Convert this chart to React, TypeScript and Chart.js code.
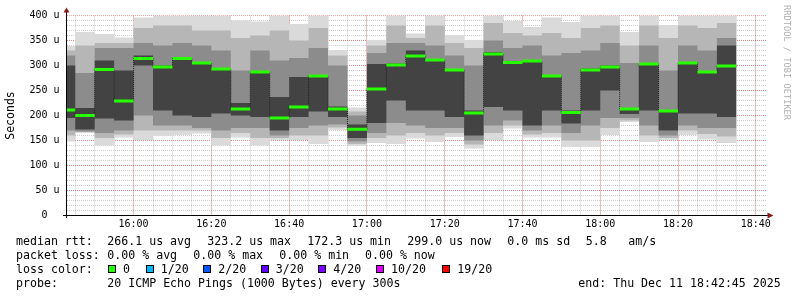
import React, { useEffect, useRef } from "react";
import { Chart, registerables } from "chart.js";

Chart.register(...registerables);

// ---- data ----
const colBounds = [
  "15:42:45", "15:45", "15:50", "15:55",
  "16:00", "16:05", "16:10", "16:15", "16:20", "16:25", "16:30", "16:35", "16:40", "16:45", "16:50", "16:55",
  "17:00", "17:05", "17:10", "17:15", "17:20", "17:25", "17:30", "17:35", "17:40", "17:45", "17:50", "17:55",
  "18:00", "18:05", "18:10", "18:15", "18:20", "18:25", "18:30", "18:35",
];
const rangeStart = "15:42:45";
const rangeEnd = "18:42:45";

const medianRtt = [211, 200, 292, 229, 314, 297, 314, 305, 293, 213, 287, 195, 217, 279, 213, 172.3, 253, 301, 319, 311, 291, 205, 323.2, 306, 309, 279, 206, 291, 297, 213, 303, 209, 305, 287, 299];
const smokeMin = [148, 165, 140, 156, 151, 159, 161, 164, 140, 156, 140, 151, 151, 143, 171, 139, 145, 143, 154, 147, 157, 134, 151, 174, 156, 156, 137, 137, 161, 187, 147, 151, 161, 152, 145];
const smokeMax = [339, 367, 363, 356, 396, 410, 410, 400, 402, 390, 388, 405, 383, 405, 331, 216, 351, 405, 364, 405, 361, 351, 410, 389, 377, 396, 387, 405, 405, 367, 405, 381, 405, 405, 405];
const smokeOuterLo = [160, 167, 155, 162, 170, 170, 170, 170, 155, 165, 155, 155, 160, 160, 176, 143, 155, 160, 165, 160, 165, 142, 165, 180, 162, 165, 150, 150, 175, 190, 160, 155, 170, 163, 158];
const smokeOuterHi = [330, 340, 345, 345, 375, 380, 380, 370, 370, 355, 360, 370, 350, 375, 320, 208, 340, 380, 355, 380, 345, 335, 385, 365, 360, 365, 355, 375, 380, 340, 380, 355, 380, 375, 385];
const smokeMidLo = [170, 168, 165, 170, 200, 180, 180, 175, 170, 175, 175, 160, 175, 180, 182, 148, 165, 185, 180, 175, 175, 150, 180, 190, 170, 180, 165, 180, 195, 195, 180, 160, 180, 175, 175];
const smokeMidHi = [320, 285, 335, 335, 345, 340, 345, 340, 330, 290, 330, 310, 315, 335, 300, 200, 325, 345, 345, 340, 320, 300, 350, 335, 340, 320, 325, 330, 345, 305, 340, 290, 340, 330, 355];
const smokeCoreLo = [195, 172, 194, 190, 300, 210, 200, 197, 204, 200, 197, 170, 197, 208, 197, 155, 185, 230, 210, 210, 197, 160, 217, 210, 180, 210, 184, 210, 250, 203, 210, 170, 204, 204, 197];
const smokeCoreHi = [300, 215, 310, 290, 320, 300, 317, 304, 294, 225, 287, 237, 277, 280, 218, 182, 303, 304, 330, 312, 291, 210, 327, 307, 310, 280, 210, 294, 300, 214, 305, 210, 307, 287, 340];

const xTickTimes = ["16:00", "16:20", "16:40", "17:00", "17:20", "17:40", "18:00", "18:20", "18:40"];
const xTickLabels = ["16:00", "16:20", "16:40", "17:00", "17:20", "17:40", "18:00", "18:20", "18:40"];
const yTickValues = [0, 50, 100, 150, 200, 250, 300, 350, 400];
const yTickLabels = ["0  ", "50 u", "100 u", "150 u", "200 u", "250 u", "300 u", "350 u", "400 u"];

const statRtt = [
  [16, "median rtt:"], [107.3, "266.1 us avg"], [207.3, "323.2 us max"], [307.3, "172.3 us min"],
  [407.3, "299.0 us now"], [507.3, "0.0 ms sd"], [585.7, "5.8"], [628.3, "am/s"],
];
const statLoss = [
  [16, "packet loss:"], [107.3, "0.00 % avg"], [193.3, "0.00 % max"], [279.3, "0.00 % min"], [365, "0.00 % now"],
];
const lossLabels = ["0", "1/20", "2/20", "3/20", "4/20", "10/20", "19/20"];
const lossColors = ["#26ff00", "#00b8ff", "#0059ff", "#5e00ff", "#7e00ff", "#dd00ff", "#ff0000"];
const lossBoxX = [108, 145.7, 203.3, 260.7, 318.3, 376, 442.3];
const probeText = "20 ICMP Echo Pings (1000 Bytes) every 300s";
const endText = "end: Thu Dec 11 18:42:45 2025";

// ---- helpers ----
const toMin = (s: string) => {
  const p = s.split(":").map(Number);
  return p[0] * 60 + p[1] + (p[2] || 0) / 60;
};
const bx = colBounds.map(toMin);
// each column value becomes a flat segment from its start boundary to its end boundary
const stepPts = (vals: number[]) =>
  vals.flatMap((v, i) => [{ x: bx[i], y: v }, { x: bx[i + 1], y: v }]);
const medianSegs = () => {
  const out: any[] = [];
  medianRtt.forEach((m, i) => {
    out.push({ x: bx[i], y: m }, { x: bx[i + 1], y: m }, { x: bx[i + 1], y: null });
  });
  return out;
};

const MONO = "'DejaVu Sans Mono', monospace";
const MAJOR = "rgba(255,70,70,0.5)";
const MINOR = "rgba(110,110,110,0.35)";

const axesPlugin = {
  id: "rrdAxes",
  afterDraw(chart: any) {
    const { ctx, chartArea } = chart;
    const { left, right, top, bottom } = chartArea;
    ctx.save();
    ctx.strokeStyle = "#000";
    ctx.lineWidth = 1;
    ctx.beginPath();
    ctx.moveTo(left - 3.5, bottom);
    ctx.lineTo(right + 2, bottom);
    ctx.moveTo(left, bottom + 2.5);
    ctx.lineTo(left, top - 5);
    ctx.stroke();
    ctx.fillStyle = "#8b1c1c";
    ctx.beginPath();
    ctx.moveTo(right + 1, bottom - 3);
    ctx.lineTo(right + 7, bottom);
    ctx.lineTo(right + 1, bottom + 3);
    ctx.closePath();
    ctx.fill();
    ctx.beginPath();
    ctx.moveTo(left - 3, top - 3);
    ctx.lineTo(left, top - 8);
    ctx.lineTo(left + 3, top - 3);
    ctx.closePath();
    ctx.fill();
    ctx.restore();
  },
};

export default function App() {
  const ref = useRef<HTMLCanvasElement | null>(null);

  useEffect(() => {
    if (!ref.current) return;
    const xMin = toMin(rangeStart);
    const xMax = toMin(rangeEnd);
    const minorX = [...colBounds.slice(1), "18:40"].map(toMin);
    const minorY: number[] = [];
    for (let v = 10; v < 400; v += 10) minorY.push(v);

    const layer = (d: number[], extra: any) => ({
      data: stepPts(d),
      borderWidth: 0,
      pointRadius: 0,
      tension: 0,
      ...extra,
    });

    const chart = new Chart(ref.current, {
      type: "line",
      data: {
        datasets: [
          layer(smokeMax, { label: "max", fill: false, order: 12 }),
          layer(smokeMin, { label: "min", fill: "-1", backgroundColor: "#dadada", order: 11 }),
          layer(smokeOuterHi, { label: "outerHi", fill: false, order: 10 }),
          layer(smokeOuterLo, { label: "outerLo", fill: "-1", backgroundColor: "#b6b6b6", order: 9 }),
          layer(smokeMidHi, { label: "midHi", fill: false, order: 8 }),
          layer(smokeMidLo, { label: "midLo", fill: "-1", backgroundColor: "#8c8c8c", order: 7 }),
          layer(smokeCoreHi, { label: "coreHi", fill: false, order: 6 }),
          layer(smokeCoreLo, { label: "coreLo", fill: "-1", backgroundColor: "#434343", order: 5 }),
          {
            label: "median step",
            data: stepPts(medianRtt),
            borderColor: "#202020",
            borderWidth: 1,
            borderDash: [1, 1],
            pointRadius: 0,
            fill: false,
            order: 2,
          },
          {
            label: "median",
            data: medianSegs(),
            borderColor: "#26ff00",
            borderWidth: 3,
            pointRadius: 0,
            fill: false,
            spanGaps: false,
            order: 1,
          },
        ] as any,
      },
      options: {
        animation: false,
        responsive: false,
        devicePixelRatio: 1,
        events: [],
        layout: { padding: { left: 0, right: 30.5, top: 15.5, bottom: 61.5 } },
        plugins: { legend: { display: false }, tooltip: { enabled: false } },
        scales: {
          xMinor: {
            type: "linear",
            position: "bottom",
            min: xMin,
            max: xMax,
            z: 1,
            afterBuildTicks: (s: any) => { s.ticks = minorX.map((v) => ({ value: v })); },
            afterFit: (s: any) => { s.height = 0; },
            ticks: { display: false },
            grid: { color: MINOR, drawTicks: false, lineWidth: 1 },
            border: { display: false, dash: [1, 1] },
          },
          yMinor: {
            type: "linear",
            position: "left",
            min: 0,
            max: 400,
            z: 1,
            afterBuildTicks: (s: any) => { s.ticks = minorY.map((v) => ({ value: v })); },
            afterFit: (s: any) => { s.width = 0; },
            ticks: { display: false },
            grid: { color: MINOR, drawTicks: false, lineWidth: 1 },
            border: { display: false, dash: [1, 1] },
          },
          x: {
            type: "linear",
            position: "bottom",
            min: xMin,
            max: xMax,
            z: 2,
            afterBuildTicks: (s: any) => { s.ticks = xTickTimes.map((t) => ({ value: toMin(t) })); },
            afterFit: (s: any) => { s.height = 20; },
            ticks: {
              autoSkip: false,
              maxRotation: 0,
              padding: 3,
              color: "#000",
              font: { family: MONO, size: 10 },
              callback: (_v: any, i: number) => xTickLabels[i],
            },
            grid: { color: MAJOR, drawTicks: false, lineWidth: 1 },
            border: { display: false, dash: [1, 1] },
          },
          y: {
            type: "linear",
            position: "left",
            min: 0,
            max: 400,
            z: 2,
            afterBuildTicks: (s: any) => { s.ticks = yTickValues.map((v) => ({ value: v })); },
            afterFit: (s: any) => { s.width = 66.5; },
            ticks: {
              padding: 7,
              color: "#000",
              font: { family: MONO, size: 10 },
              callback: (_v: any, i: number) => yTickLabels[i],
            },
            grid: { color: MAJOR, drawTicks: false, lineWidth: 1 },
            border: { display: false, dash: [1, 1] },
            title: {
              display: true,
              text: "Seconds",
              color: "#000",
              font: { family: MONO, size: 11.5, lineHeight: 1 },
              padding: { top: 5, bottom: 0 },
            },
          },
        } as any,
      },
      plugins: [axesPlugin],
    } as any);
    return () => chart.destroy();
  }, []);

  const txt: React.CSSProperties = {
    position: "absolute",
    fontFamily: MONO,
    fontSize: "11.6px",
    lineHeight: "14px",
    color: "#000",
    whiteSpace: "pre",
  };

  return (
    <div style={{ position: "absolute", left: 0, top: 0, width: 797, height: 297, background: "#fff", overflow: "hidden" }}>
      <canvas ref={ref} width={797} height={297} style={{ display: "block", position: "absolute", left: 0, top: 0 }} />
      {statRtt.map(([x, t], i) => (
        <span key={"r" + i} style={{ ...txt, left: x as number, top: 234 }}>{t}</span>
      ))}
      {statLoss.map(([x, t], i) => (
        <span key={"l" + i} style={{ ...txt, left: x as number, top: 248 }}>{t}</span>
      ))}
      <span style={{ ...txt, left: 16, top: 262 }}>loss color:</span>
      {lossLabels.map((lab, i) => (
        <React.Fragment key={"c" + i}>
          <span style={{ position: "absolute", left: lossBoxX[i], top: 265, width: 6, height: 6, border: "1px solid #000", background: lossColors[i] }} />
          <span style={{ ...txt, left: lossBoxX[i] + 15, top: 262 }}>{lab}</span>
        </React.Fragment>
      ))}
      <span style={{ ...txt, left: 16, top: 276 }}>probe:</span>
      <span style={{ ...txt, left: 107.3, top: 276 }}>{probeText}</span>
      <span style={{ ...txt, left: 578.3, top: 276 }}>{endText}</span>
      <span
        style={{
          position: "absolute",
          left: 792,
          top: 5,
          transform: "rotate(90deg)",
          transformOrigin: "left top",
          fontFamily: MONO,
          fontSize: "8.7px",
          lineHeight: "10px",
          color: "#b0b0b0",
          whiteSpace: "pre",
        }}
      >
        RRDTOOL / TOBI OETIKER
      </span>
    </div>
  );
}
